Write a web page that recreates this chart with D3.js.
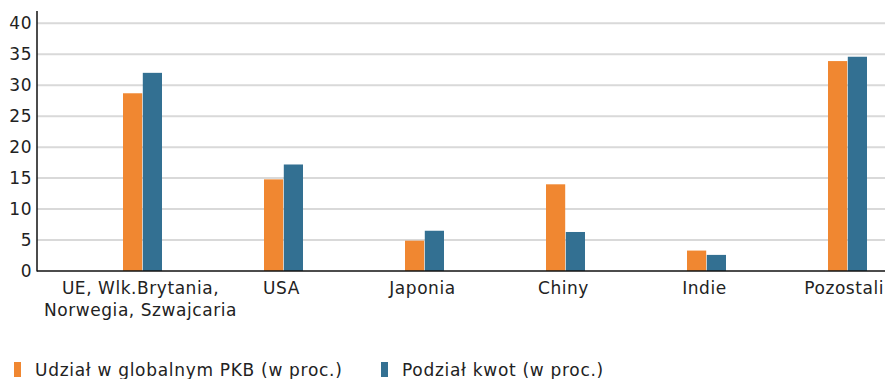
<!DOCTYPE html>
<html>
<head>
<meta charset="utf-8">
<script src="https://cdn.jsdelivr.net/npm/d3@7/dist/d3.min.js"></script>
<style>
  body { margin: 0; background: #fff; }
  svg { display: block; font-family: "DejaVu Sans", "Noto Sans", sans-serif; }
</style>
</head>
<body>
<svg id="chart" width="885" height="379"></svg>
<script>
const categories = [["UE, Wlk.Brytania,", "Norwegia, Szwajcaria"], ["USA"], ["Japonia"], ["Chiny"], ["Indie"], ["Pozostali"]];
const seriesNames = ["Udział w globalnym PKB (w proc.)", "Podział kwot (w proc.)"];
const gdpShare = [28.7, 14.8, 4.9, 14.0, 3.3, 33.9];
const quotaShare = [32.0, 17.2, 6.5, 6.3, 2.6, 34.6];
const yTicks = [0, 5, 10, 15, 20, 25, 30, 35, 40];
const colors = ["#F08731", "#337092"];

const svg = d3.select("#chart");
const plotLeft = 37, plotRight = 885, plotTop = 11, plotBottom = 271;

const y = d3.scaleLinear().domain([0, 40]).range([plotBottom, 23.3]);
const keys = categories.map((c, i) => i);
const x0 = d3.scaleBand().domain(keys).range([72, 918]).padding(0);
const x1 = d3.scaleBand().domain([0, 1]).range([x0.bandwidth() / 2 - 19.5, x0.bandwidth() / 2 + 19.5]).paddingInner(0.03);

// gridlines
svg.append("g").selectAll("line").data(yTicks.filter(t => t > 0)).join("line")
  .attr("x1", plotLeft).attr("x2", plotRight)
  .attr("y1", d => y(d)).attr("y2", d => y(d))
  .attr("stroke", "#d9d9d9").attr("stroke-width", 2);

// bars
const groups = svg.append("g").selectAll("g").data(keys).join("g")
  .attr("transform", i => `translate(${x0(i)},0)`);
groups.selectAll("rect").data(i => [gdpShare[i], quotaShare[i]]).join("rect")
  .attr("x", (d, s) => x1(s))
  .attr("width", x1.bandwidth())
  .attr("y", d => y(d))
  .attr("height", d => y(0) - y(d))
  .attr("fill", (d, s) => colors[s]);

// axes
const yAxis = svg.append("g").attr("transform", `translate(${plotLeft},0)`)
  .call(d3.axisLeft(y).tickValues(yTicks).tickSize(0).tickPadding(5));
yAxis.select(".domain").remove();
yAxis.selectAll("text").attr("font-size", 17).attr("letter-spacing", 0.5).attr("fill", "#222")
  .attr("font-family", "'DejaVu Sans', 'Noto Sans', sans-serif");

svg.append("line").attr("x1", plotLeft).attr("x2", plotLeft).attr("y1", plotTop).attr("y2", plotBottom + 0.5)
  .attr("stroke", "#111").attr("stroke-width", 1.5);
svg.append("line").attr("x1", plotLeft).attr("x2", plotRight).attr("y1", plotBottom).attr("y2", plotBottom)
  .attr("stroke", "#111").attr("stroke-width", 1.5);

// category labels, kept inside the right edge of the canvas
const xl = svg.append("g").selectAll("text").data(keys).join("text")
  .attr("y", 294)
  .attr("text-anchor", "middle")
  .attr("font-size", 17).attr("letter-spacing", 0.55).attr("fill", "#222");
xl.selectAll("tspan").data(i => categories[i]).join("tspan")
  .attr("dy", (d, j) => j === 0 ? 0 : 21.5)
  .text(d => d);
xl.each(function (i) {
  const t = d3.select(this);
  const w = this.getComputedTextLength ? d3.max(t.selectAll("tspan").nodes(), n => n.getComputedTextLength()) : 0;
  const cx = Math.min(x0(i) + x0.bandwidth() / 2 - 2, plotRight - 1 - w / 2);
  t.selectAll("tspan").attr("x", cx);
});

// legend
const legendX = [14, 381];
const lg = svg.append("g").selectAll("g").data(seriesNames).join("g")
  .attr("transform", (d, i) => `translate(${legendX[i]},362)`);
lg.append("rect").attr("width", 7).attr("height", 15).attr("fill", (d, i) => colors[i]);
lg.append("text").attr("x", 21).attr("y", 13.5).attr("font-size", 17).attr("letter-spacing", 0.7)
  .attr("fill", "#222").text(d => d);
</script>
</body>
</html>
